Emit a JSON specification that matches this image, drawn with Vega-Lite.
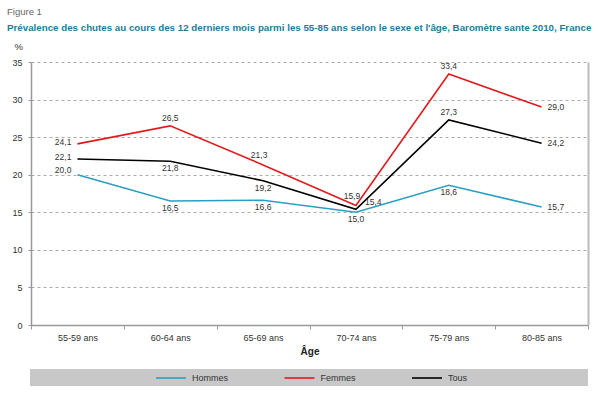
{
  "$schema": "https://vega.github.io/schema/vega-lite/v6.json",
  "width": 557,
  "height": 263,
  "autosize": "none",
  "padding": {"left": 31, "top": 62, "right": 12, "bottom": 69},
  "config": {
    "font": "Liberation Sans, Arial, sans-serif",
    "locale": {"number": {"decimal": ",", "thousands": " ", "grouping": [3], "currency": ["", " €"]}},
    "view": {"stroke": null},
    "text": {"fontSize": 8.5, "color": "#333333"}
  },
  "title": {
    "text": "Figure 1",
    "subtitle": "Prévalence des chutes au cours des 12 derniers mois parmi les 55-85 ans selon le sexe et l'âge, Baromètre sante 2010, France",
    "anchor": "start",
    "frame": "group",
    "dx": -24,
    "fontSize": 9.5,
    "fontWeight": "normal",
    "color": "#666666",
    "subtitleFontSize": 9.75,
    "subtitleFontWeight": "bold",
    "subtitleColor": "#1b7d9a",
    "subtitlePadding": 7,
    "offset": 8
  },
  "data": {
    "values": [
      {"age": "55-59 ans", "serie": "Hommes", "value": 20.0},
      {"age": "60-64 ans", "serie": "Hommes", "value": 16.5},
      {"age": "65-69 ans", "serie": "Hommes", "value": 16.6},
      {"age": "70-74 ans", "serie": "Hommes", "value": 15.0},
      {"age": "75-79 ans", "serie": "Hommes", "value": 18.6},
      {"age": "80-85 ans", "serie": "Hommes", "value": 15.7},
      {"age": "55-59 ans", "serie": "Femmes", "value": 24.1},
      {"age": "60-64 ans", "serie": "Femmes", "value": 26.5},
      {"age": "65-69 ans", "serie": "Femmes", "value": 21.3},
      {"age": "70-74 ans", "serie": "Femmes", "value": 15.9},
      {"age": "75-79 ans", "serie": "Femmes", "value": 33.4},
      {"age": "80-85 ans", "serie": "Femmes", "value": 29.0},
      {"age": "55-59 ans", "serie": "Tous", "value": 22.1},
      {"age": "60-64 ans", "serie": "Tous", "value": 21.8},
      {"age": "65-69 ans", "serie": "Tous", "value": 19.2},
      {"age": "70-74 ans", "serie": "Tous", "value": 15.4},
      {"age": "75-79 ans", "serie": "Tous", "value": 27.3},
      {"age": "80-85 ans", "serie": "Tous", "value": 24.2}
    ]
  },
  "encoding": {
    "x": {
      "field": "age", "type": "nominal",
      "scale": {"type": "band", "paddingInner": 0, "paddingOuter": 0},
      "axis": {
        "title": "Âge", "labelAngle": 0, "tickBand": "extent",
        "domainColor": "#999999", "domainWidth": 1.5, "tickColor": "#999999", "tickSize": 4,
        "labelFontSize": 9, "labelColor": "#333333", "labelPadding": 4,
        "titleFontSize": 10, "titleFontWeight": "bold", "titleColor": "#222222", "titlePadding": 4
      }
    }
  },
  "resolve": {"axis": {"y": "independent"}},
  "layer": [
    {
      "mark": {"type": "line", "strokeWidth": 1.6},
      "encoding": {
        "y": {
          "field": "value", "type": "quantitative",
          "scale": {"domain": [0, 35]},
          "axis": {
            "title": "%", "titleAngle": 0, "titleAlign": "left", "titleBaseline": "middle",
            "titleX": -17, "titleY": -16, "titleFontSize": 9.5, "titleFontWeight": "normal", "titleColor": "#333333",
            "values": [0, 5, 10, 15, 20, 25, 30, 35],
            "domainColor": "#999999", "domainWidth": 1.5, "tickColor": "#999999", "tickSize": 3,
            "labelFontSize": 9, "labelColor": "#333333", "labelPadding": 6,
            "gridColor": "#aaaaaa", "gridDash": [3, 3], "gridWidth": 1
          }
        },
        "color": {
          "field": "serie", "type": "nominal",
          "scale": {"domain": ["Hommes", "Femmes", "Tous"], "range": ["#2a9fc6", "#e31a1c", "#000000"]},
          "legend": {
            "orient": "none", "legendX": -1, "legendY": 307,
            "direction": "horizontal", "title": "\u00a0", "titleOrient": "left", "titlePadding": 132,
            "titleFontSize": 9,
            "fillColor": "#c8c8c8", "padding": 3,
            "symbolType": "M-3,0H3", "symbolSize": 100, "symbolStrokeWidth": 1.6,
            "labelFontSize": 9, "labelColor": "#333333", "labelOffset": 15, "columnPadding": 51.5,
            "labelLimit": 0,
            "labelExpr": "datum.label == 'Tous' ? 'Tous' + pad('', 47, '\u00a0') + '\u200b' : datum.label"
          }
        }
      }
    },
    {
      "encoding": {
        "y": {
          "field": "value", "type": "quantitative",
          "axis": {
            "orient": "right", "title": null, "labels": false, "ticks": false, "grid": false,
            "domainColor": "#bbbbbb", "domainWidth": 2
          }
        },
        "text": {"field": "value", "type": "quantitative", "format": ".1f"}
      },
      "layer": [
        {
          "transform": [{"filter": "datum.serie != 'Hommes' && datum.age == '55-59 ans'"}],
          "mark": {"type": "text", "align": "right", "baseline": "middle", "dx": -6, "dy": -2}
        },
        {
          "transform": [{"filter": "datum.serie == 'Hommes' && datum.age == '55-59 ans'"}],
          "mark": {"type": "text", "align": "right", "baseline": "middle", "dx": -6, "dy": -5}
        },
        {
          "transform": [{"filter": "(datum.serie == 'Femmes' && (datum.age == '60-64 ans' || datum.age == '75-79 ans')) || (datum.serie == 'Tous' && datum.age == '75-79 ans')"}],
          "mark": {"type": "text", "align": "center", "baseline": "middle", "dy": -8}
        },
        {
          "transform": [{"filter": "datum.serie == 'Femmes' && (datum.age == '65-69 ans' || datum.age == '70-74 ans')"}],
          "mark": {"type": "text", "align": "center", "baseline": "middle", "dx": -4, "dy": -10}
        },
        {
          "transform": [{"filter": "(datum.serie == 'Tous' && (datum.age == '60-64 ans' || datum.age == '65-69 ans')) || (datum.serie == 'Hommes' && datum.age != '55-59 ans' && datum.age != '80-85 ans')"}],
          "mark": {"type": "text", "align": "center", "baseline": "middle", "dy": 7}
        },
        {
          "transform": [{"filter": "datum.age == '80-85 ans'"}],
          "mark": {"type": "text", "align": "left", "baseline": "middle", "dx": 6}
        },
        {
          "transform": [{"filter": "datum.serie == 'Tous' && datum.age == '70-74 ans'"}],
          "mark": {"type": "text", "align": "left", "baseline": "middle", "dx": 9, "dy": -7}
        }
      ]
    }
  ]
}
